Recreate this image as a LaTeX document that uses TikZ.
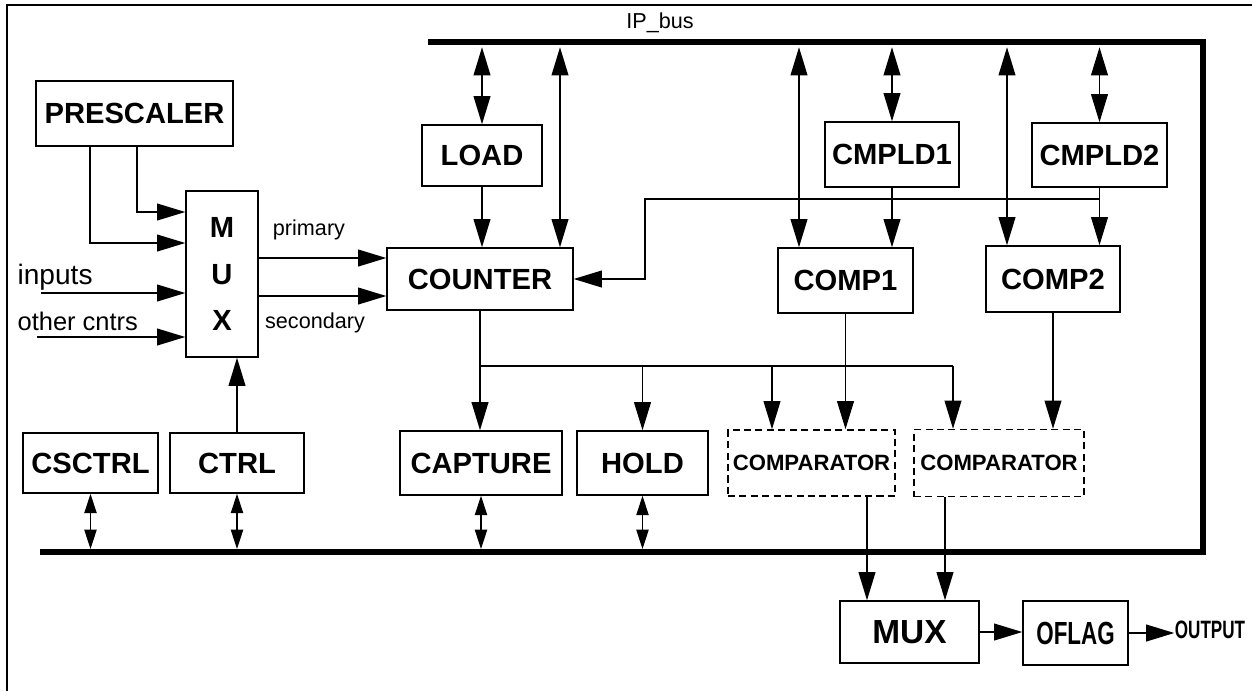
\documentclass[tikz,border=0pt]{standalone}
\usepackage{fontspec}
\setmainfont{Liberation Sans}
\usepackage{graphicx}
\usetikzlibrary{arrows.meta}
\tikzset{
  every picture/.style={line width=0.7pt},
  box/.style={draw, line width=0.9pt, inner sep=0pt, align=center, font=\bfseries\fontsize{16.6}{20}\selectfont},
  cmpbox/.style={box, dash pattern=on 4pt off 2.5pt, font=\bfseries\fontsize{12.6}{15}\selectfont},
  lbl/.style={inner sep=0pt, font=\fontsize{12.3}{15}\selectfont},
  arrow/.style={-{Triangle[length=16pt, width=9.6pt]}},
  busio/.style={{Triangle[length=16pt, width=9.6pt]}-{Triangle[length=16pt, width=9.6pt]}, shorten <=3pt},
  smallio/.style={{Triangle[length=11pt, width=7pt]}-{Triangle[length=11pt, width=7pt]}, shorten <=1.7pt},
  bus/.style={line width=3.4pt},
}

\begin{document}
\begin{tikzpicture}[x=0.02cm, y=-0.02cm]
  \useasboundingbox (0,0) rectangle (1252,691);
  \draw[line width=0.6pt] (7,691) -- (7,5) -- (1252,5);

  % IP bus
  \coordinate (bustl) at (428,42);
  \coordinate (bustr) at (1203,42);
  \coordinate (busbr) at (1203,552);
  \coordinate (busbl) at (40,552);
  \draw[bus] (bustl) -- (bustr) -- (busbr) -- (busbl);
  \node[lbl] (ipbus) at (660,23) {IP\_bus};

  % clock selection
  \node[box, minimum width=3.94cm, minimum height=1.3cm] (prescaler) at (134.5,113.5) {PRESCALER};
  \node[box, minimum width=1.44cm, minimum height=3.32cm, font=\bfseries\fontsize{16.6}{26.5}\selectfont] (mux) at (222,274) {M\\U\\X};
  \node[lbl, anchor=west, font=\fontsize{16}{18}\selectfont] (inputs) at (17,277) {inputs};
  \node[lbl, anchor=west, font=\fontsize{14.5}{17}\selectfont] (others) at (17,321) {other cntrs};
  \coordinate (inp) at (41,293);
  \coordinate (oth) at (37,337);
  \node[box, minimum width=2.7cm, minimum height=1.2cm] (csctrl) at (90.5,463) {CSCTRL};
  \node[box, minimum width=2.68cm, minimum height=1.2cm] (ctrl) at (237,463) {CTRL};

  % counter and compare registers
  \node[box, minimum width=2.4cm, minimum height=1.22cm] (load) at (482,155.5) {LOAD};
  \node[box, minimum width=3.72cm, minimum height=1.24cm] (counter) at (480,279) {COUNTER};
  \node[box, minimum width=2.68cm, minimum height=1.3cm] (cmpld1) at (892,154.5) {CMPLD1};
  \node[box, minimum width=2.7cm, minimum height=1.28cm] (cmpld2) at (1099.5,155) {CMPLD2};
  \node[box, minimum width=2.7cm, minimum height=1.3cm] (comp1) at (845.5,280.5) {COMP1};
  \node[box, minimum width=2.68cm, minimum height=1.32cm] (comp2) at (1053,279) {COMP2};
  \node[lbl] (primary) at (309,230) {primary};
  \node[lbl] (secondary) at (315,323) {secondary};

  % lower row
  \node[box, minimum width=3.24cm, minimum height=1.28cm] (capture) at (481,463) {CAPTURE};
  \node[box, minimum width=2.62cm, minimum height=1.28cm] (hold) at (642.5,463) {HOLD};
  \node[cmpbox, minimum width=3.34cm, minimum height=1.32cm] (cmpr1) at (811.5,463) {COMPARATOR};
  \node[cmpbox, minimum width=3.4cm, minimum height=1.34cm] (cmpr2) at (999,463) {COMPARATOR};

  % output stage
  \node[box, minimum width=2.78cm, minimum height=1.24cm, font=\bfseries\fontsize{19}{22}\selectfont] (outmux) at (909.5,632) {MUX};
  \node[box, minimum width=2.1cm, minimum height=1.28cm, font=\bfseries\fontsize{18.2}{22}\selectfont] (oflag) at (1075.5,633) {\scalebox{0.7}[1]{OFLAG}};
  \node[inner sep=0pt, font=\bfseries\fontsize{14.3}{17}\selectfont] (output) at (1210,630) {\scalebox{0.68}[1]{OUTPUT}};

  % into the mux
  \draw[arrow] (137,0 |- prescaler.south) |- (mux.west |- 0,212);
  \draw[arrow] (90,0 |- prescaler.south) |- (mux.west |- 0,243);
  \draw[arrow] (inp) -- (inp -| mux.west);
  \draw[arrow] (oth) -- (oth -| mux.west);
  \draw[arrow] (ctrl.north) -- (ctrl.north |- mux.south);
  \draw[arrow] (mux.east |- 0,258) -- (counter.west |- 0,258);
  \draw[arrow] (mux.east |- 0,296) -- (counter.west |- 0,296);

  % upper bus links
  \foreach \n in {load, cmpld1, cmpld2}
    \draw[busio] (\n.north |- bustl) -- (\n.north);
  \draw[busio] (560,0 |- bustl) -- (560,0 |- counter.north);
  \draw[busio] (799,0 |- bustl) -- (799,0 |- comp1.north);
  \draw[busio] (1007,0 |- bustl) -- (1007,0 |- comp2.north);
  \draw[arrow] (load.south) -- (load.south |- counter.north);
  \draw[arrow] (cmpld1.south) -- (cmpld1.south |- comp1.north);
  \draw[arrow] (cmpld2.south) -- (cmpld2.south |- comp2.north);
  \draw[arrow] (cmpld2.south) |- (645,199) |- (counter.east);

  % counter value to the lower row
  \coordinate (split) at (counter.south |- 0,366);
  \draw (counter.south) -- (split) -- (953,0 |- split);
  \draw[arrow] (split) -- (split |- capture.north);
  \draw[arrow] (split -| hold.north) -- (hold.north);
  \draw[arrow] (772,0 |- split) -- (772,0 |- cmpr1.north);
  \draw[arrow] (953,0 |- split) -- (953,0 |- cmpr2.north);
  \draw[arrow] (comp1.south) -- (comp1.south |- cmpr1.north);
  \draw[arrow] (comp2.south) -- (comp2.south |- cmpr2.north);
  \draw[arrow] (867,0 |- cmpr1.south) -- (867,0 |- outmux.north);
  \draw[arrow] (945,0 |- cmpr2.south) -- (945,0 |- outmux.north);
  \draw[arrow] (outmux.east) -- (outmux.east -| oflag.west);
  \draw[arrow] (oflag.east) -- (oflag.east -| output.west);

  % lower bus links
  \foreach \n in {csctrl, ctrl, capture, hold}
    \draw[smallio] (\n.south |- busbl) -- (\n.south);
\end{tikzpicture}
\end{document}
